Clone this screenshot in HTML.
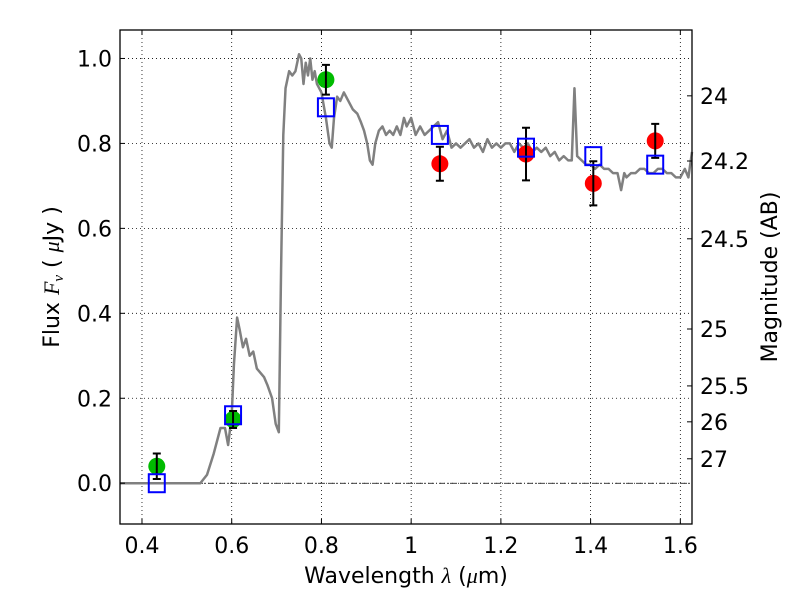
<!DOCTYPE html>
<html><head><meta charset="utf-8"><style>
body{margin:0;background:#fff}
svg text{font-family:"DejaVu Sans","Liberation Sans",sans-serif;fill:#000}
</style></head><body>
<svg id="chart" width="800" height="600" viewBox="0 0 800 600" xmlns="http://www.w3.org/2000/svg">
<g id="grid"></g>
<g id="spec"></g>
<g id="pts"></g>
<rect x="120" y="30" width="572" height="494" fill="none" stroke="#000" stroke-width="1.3"/>
<g id="axes"></g>
<text x="406" y="583" font-size="22" text-anchor="middle">Wavelength  <tspan font-family="Liberation Serif" font-style="italic">λ</tspan> (<tspan font-family="Liberation Serif" font-style="italic">μ</tspan>m)</text>
<text transform="translate(59,277) rotate(-90)" font-size="22" text-anchor="middle">Flux  <tspan font-family="Liberation Serif" font-style="italic">F<tspan font-size="15" dy="4">ν</tspan></tspan><tspan dy="-4">  ( </tspan><tspan font-family="Liberation Serif" font-style="italic">μ</tspan>Jy )</text>
<text transform="translate(777,277) rotate(-90)" font-size="22" text-anchor="middle">Magnitude (AB)</text>
</svg>
<script>
const xTicks=[0.4,0.6,0.8,1.0,1.2,1.4,1.6];
const xTickLabels=["0.4","0.6","0.8","1","1.2","1.4","1.6"];
const yTicks=[0,0.2,0.4,0.6,0.8,1.0];
const yTickLabels=["0.0","0.2","0.4","0.6","0.8","1.0"];
const magTicks=[24,24.2,24.5,25,25.5,26,27];
const magTickLabels=["24","24.2","24.5","25","25.5","26","27"];
const specWave=[0.35,0.53,0.545,0.56,0.575,0.585,0.592,0.6,0.605,0.612,0.618,0.625,0.632,0.64,0.648,0.656,0.664,0.672,0.68,0.69,0.698,0.705,0.71,0.715,0.72,0.728,0.735,0.742,0.75,0.755,0.76,0.765,0.77,0.775,0.78,0.785,0.79,0.8,0.81,0.818,0.823,0.828,0.835,0.842,0.85,0.86,0.87,0.88,0.888,0.895,0.902,0.908,0.914,0.92,0.928,0.936,0.944,0.952,0.96,0.968,0.976,0.984,0.99,1.0,1.01,1.02,1.03,1.04,1.05,1.06,1.07,1.08,1.09,1.1,1.11,1.12,1.13,1.14,1.15,1.16,1.17,1.18,1.19,1.2,1.21,1.22,1.23,1.24,1.25,1.26,1.27,1.28,1.29,1.3,1.31,1.32,1.33,1.34,1.35,1.358,1.364,1.37,1.38,1.39,1.4,1.41,1.42,1.43,1.44,1.45,1.46,1.468,1.475,1.48,1.49,1.5,1.51,1.52,1.53,1.54,1.55,1.56,1.57,1.58,1.59,1.6,1.61,1.618,1.626];
const specFlux=[0,0,0.02,0.07,0.13,0.13,0.09,0.16,0.28,0.39,0.36,0.32,0.34,0.3,0.31,0.27,0.26,0.25,0.23,0.2,0.14,0.12,0.5,0.82,0.93,0.97,0.96,0.97,1.01,1.0,0.94,0.99,0.96,1.0,0.95,0.97,0.94,0.92,0.86,0.8,0.79,0.86,0.91,0.9,0.92,0.9,0.88,0.87,0.85,0.83,0.8,0.76,0.75,0.8,0.83,0.84,0.82,0.83,0.82,0.84,0.82,0.86,0.84,0.86,0.82,0.84,0.82,0.83,0.84,0.85,0.81,0.83,0.79,0.8,0.79,0.8,0.81,0.79,0.8,0.78,0.81,0.79,0.8,0.79,0.8,0.8,0.78,0.8,0.79,0.8,0.78,0.79,0.78,0.79,0.77,0.78,0.76,0.77,0.76,0.76,0.93,0.77,0.76,0.75,0.75,0.74,0.75,0.74,0.74,0.73,0.73,0.69,0.73,0.72,0.73,0.73,0.74,0.74,0.73,0.73,0.74,0.74,0.73,0.73,0.72,0.72,0.74,0.72,0.78];
const obsWave=[0.433,0.603,0.81,1.064,1.256,1.406,1.544];
const obsFlux=[0.04,0.15,0.95,0.752,0.775,0.706,0.806];
const obsErr=[0.03,0.02,0.035,0.04,0.062,0.052,0.04];
const obsColor=["#00bb00","#00bb00","#00bb00","#ff0000","#ff0000","#ff0000","#ff0000"];
const modelFlux=[0.0,0.16,0.885,0.82,0.79,0.77,0.75];

const NS="http://www.w3.org/2000/svg";
const X0=120,X1=692,Y0=524,Y1=30,XMIN=0.351,XMAX=1.626,YMIN=-0.096,YMAX=1.067;
function sx(v){return X0+(v-XMIN)/(XMAX-XMIN)*(X1-X0);}
function sy(v){return Y0-(v-YMIN)/(YMAX-YMIN)*(Y0-Y1);}
function mk(tag,attrs,parent){const e=document.createElementNS(NS,tag);for(const k in attrs)e.setAttribute(k,attrs[k]);parent.appendChild(e);return e;}
const grid=document.getElementById('grid'),axes=document.getElementById('axes'),spec=document.getElementById('spec'),pts=document.getElementById('pts');
xTicks.forEach((t,i)=>{const x=sx(t);
 const g=mk('line',{x1:x,x2:x,y1:Y1,y2:Y0,stroke:'#000','stroke-width':0.8,'stroke-dasharray':'1,3'},grid);
 
 
 mk('line',{x1:x,x2:x,y1:Y0,y2:Y0-5,stroke:'#000'},axes);
 mk('line',{x1:x,x2:x,y1:Y1,y2:Y1+5,stroke:'#000'},axes);
 const tx=mk('text',{x:x,y:Y0+29,'font-size':22,'text-anchor':'middle'},axes);tx.textContent=xTickLabels[i];
 
 
});
yTicks.forEach((t,i)=>{const y=sy(t);
 const g=mk('line',{x1:X0,x2:X1,y1:y,y2:y,stroke:'#000','stroke-width':0.8,'stroke-dasharray':'1,3'},grid);
 
 
 mk('line',{x1:X0,x2:X0+5,y1:y,y2:y,stroke:'#000'},axes);
 const tx=mk('text',{x:X0-8,y:y+8,'font-size':22,'text-anchor':'end'},axes);tx.textContent=yTickLabels[i];
 
 
});
magTicks.forEach((m,i)=>{const y=sy(Math.pow(10,(23.9-m)/2.5));
 mk('line',{x1:X1,x2:X1-5,y1:y,y2:y,stroke:'#000'},axes);
 const tx=mk('text',{x:X1+8,y:y+8,'font-size':22},axes);tx.textContent=magTickLabels[i];
 
 
});
const zl=mk('line',{x1:X0,x2:X1,y1:sy(0),y2:sy(0),stroke:'#000','stroke-width':0.8,'stroke-dasharray':'6,2,1,2'},grid);


const sp=mk('polyline',{points:specWave.map((w,i)=>sx(w)+','+sy(specFlux[i])).join(' '),fill:'none',stroke:'#808080','stroke-width':2.5,'stroke-linejoin':'round'},spec);


obsWave.forEach((w,i)=>{const x=sx(w);
 const c=mk('circle',{cx:x,cy:sy(obsFlux[i]),r:8.5,fill:obsColor[i]},pts);
 
 
 const y1=sy(obsFlux[i]+obsErr[i]),y2=sy(obsFlux[i]-obsErr[i]);
 const e=mk('path',{d:`M${x},${y1}V${y2}M${x-4},${y1}H${x+4}M${x-4},${y2}H${x+4}`,stroke:'#000','stroke-width':2,fill:'none'},pts);
 
 
});
obsWave.forEach((w,i)=>{const x=sx(w),y=sy(modelFlux[i]);
 const r=mk('rect',{x:x-8,y:y-9,width:16,height:18,fill:'none',stroke:'#0000ff','stroke-width':2},pts);
 
 
});
</script>
</body></html>
